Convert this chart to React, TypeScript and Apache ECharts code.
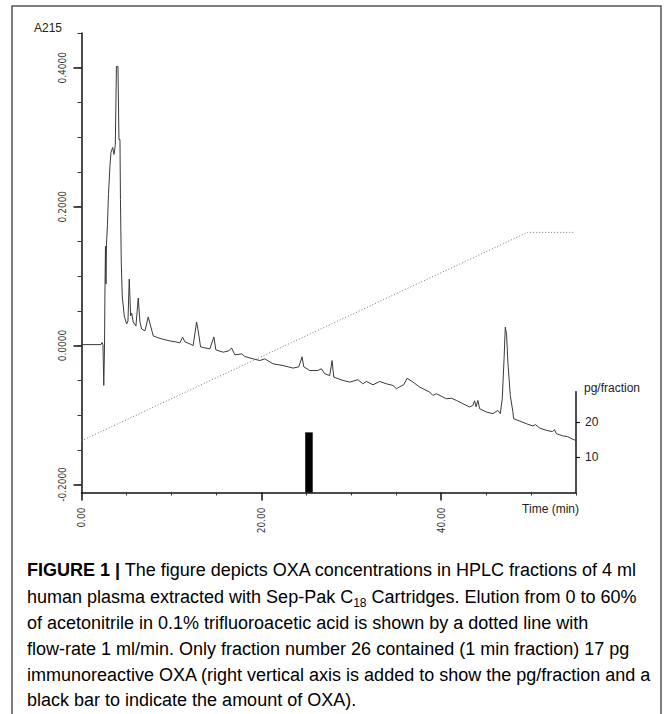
import React, { useEffect, useRef } from "react";
import * as echarts from "echarts";

// HPLC trace (time in min, absorbance at 215 nm)
const traceTime = [
  0, 2.167, 2.278, 2.389, 2.478, 2.556, 2.611, 2.667, 2.722, 2.778, 2.889, 3.0, 3.167, 3.278, 3.467,
  3.611, 3.756, 3.889, 4.056, 4.167, 4.278, 4.333, 4.422, 4.533, 4.756, 5.022, 5.167, 5.311, 5.467,
  5.578, 5.756, 6.056, 6.311, 6.5, 6.689, 7.056, 7.422, 7.689, 7.978, 8.356, 8.911, 9.833, 10.5,
  10.944, 11.244, 11.5, 12.056, 12.422, 12.8, 12.944, 13.244, 13.722, 14.278, 14.722, 14.944, 15.756,
  16.389, 16.689, 17.056, 17.833, 18.167, 19.089, 19.833, 20.389, 21.311, 22.422, 23.533, 24.167,
  24.533, 24.722, 25.389, 26.278, 26.689, 27.056, 27.611, 27.867, 28.056, 29.089, 29.833, 30.756,
  31.278, 31.689, 32.422, 33.167, 33.911, 34.644, 35.022, 35.389, 35.833, 36.222, 36.867, 37.611,
  37.978, 38.722, 39.089, 39.467, 40.578, 41.167, 41.689, 42.422, 43.167, 43.533, 43.722, 43.889,
  44.089, 44.278, 45.022, 45.756, 46.311, 46.578, 46.8, 47.0, 47.133, 47.278, 47.422, 47.689, 47.978,
  48.056, 48.533, 49.467, 50.2, 50.5, 50.944, 51.689, 52.389, 52.611, 52.8, 53.533, 54.056, 54.644,
  54.944,
];
const traceA215 = [
  0.0014, 0.0014, 0.0046, 0.001, -0.0574, -0.0047, 0.0814, 0.1431, 0.0886, 0.146, 0.1747, 0.2177,
  0.2594, 0.278, 0.2852, 0.2752, 0.2881, 0.4019, 0.4019, 0.2967, 0.2967, 0.2106, 0.1201, 0.0713,
  0.0426, 0.0311, 0.0355, 0.0957, 0.0426, 0.0469, 0.034, 0.0283, 0.0685, 0.034, 0.024, 0.0212, 0.0412,
  0.0283, 0.0139, 0.0121, 0.0096, 0.0067, 0.0053, 0.0039, 0.0121, 0.0053, 0.0024, 0.0, 0.034, 0.024,
  -0.0019, -0.0033, -0.0047, 0.0125, -0.0062, -0.0095, -0.0076, -0.0033, -0.0133, -0.0119, -0.0158,
  -0.0191, -0.0215, -0.0191, -0.0263, -0.0287, -0.0324, -0.0306, -0.0162, -0.0306, -0.0359, -0.0359,
  -0.0334, -0.0406, -0.0431, -0.0215, -0.0454, -0.0502, -0.0525, -0.0492, -0.055, -0.0517, -0.0564,
  -0.0517, -0.055, -0.0574, -0.0622, -0.0593, -0.0565, -0.0471, -0.0525, -0.0597, -0.0622, -0.0669,
  -0.0718, -0.0693, -0.0765, -0.0758, -0.0789, -0.0837, -0.0884, -0.0861, -0.0794, -0.088, -0.0789,
  -0.0909, -0.0956, -0.098, -0.0933, -0.098, -0.0765, -0.0191, 0.0264, 0.0168, -0.0238, -0.0718,
  -0.0952, -0.1052, -0.1076, -0.1124, -0.1157, -0.1138, -0.1186, -0.122, -0.1239, -0.121, -0.1267,
  -0.13, -0.131, -0.1349, -0.1364,
];

// Acetonitrile gradient (dotted line), drawn on the A215 scale
const gradientTime = [0, 49.6, 54.8];
const gradientLevel = [-0.137, 0.163, 0.163];

// Immunoreactive OXA (pg/fraction)
const fractionTime = [25.3];
const fractionPg = [17];

// Tick values
const yMajorTicks = [-0.2, 0, 0.2, 0.4];
const yMinorTicks = [-0.2, -0.15, -0.1, -0.05, 0, 0.05, 0.1, 0.15, 0.2, 0.25, 0.3, 0.35, 0.4, 0.45];
const xMajorTicks = [0, 20, 40];
const xMinorTicks = [5, 10, 15, 25, 30, 35, 45, 50, 55];
const rightTicks = [10, 20];

const captionLines = [
  "{b|FIGURE 1 |}{n| The figure depicts OXA concentrations in HPLC fractions of 4 ml}",
  "{n|human plasma extracted with Sep-Pak C}{s|18}{n| Cartridges. Elution from 0 to 60%}",
  "{n|of acetonitrile in 0.1% trifluoroacetic acid is shown by a dotted line with}",
  "{n|flow-rate 1 ml/min. Only fraction number 26 contained (1 min fraction) 17 pg}",
  "{n|immunoreactive OXA (right vertical axis is added to show the pg/fraction and a}",
  "{n|black bar to indicate the amount of OXA).}",
];

const NUM_FONT = "'Liberation Sans Narrow', 'DejaVu Sans Condensed', sans-serif";
const SANS = "'Liberation Sans', Arial, sans-serif";

export default function App() {
  const ref = useRef<HTMLDivElement>(null);

  useEffect(() => {
    if (!ref.current) return;
    const chart = echarts.init(ref.current, undefined, { renderer: "svg" });

    const trace = traceTime.map((t, i) => [t, traceA215[i]]);
    const gradient = gradientTime.map((t, i) => [t, gradientLevel[i]]);
    const bars = fractionTime.map((t, i) => [t, fractionPg[i]]);

    const yMin = -0.2115;
    const yMax = 0.45;

    const rich = {
      b: { fontFamily: SANS, fontSize: 18, fontWeight: "bold", color: "#333", lineHeight: 24 },
      n: { fontFamily: SANS, fontSize: 18, color: "#3a3a3a", lineHeight: 24 },
      s: { fontFamily: SANS, fontSize: 12, color: "#3a3a3a", lineHeight: 13, verticalAlign: "bottom" },
    };

    const captionY = [570, 596.5, 622.5, 648.5, 674.5, 700];

    chart.setOption({
      animation: false,
      backgroundColor: "#ffffff",
      grid: [
        { left: 81.5, top: 33, width: 494.5, height: 459.5 },
        { left: 81.5, top: 391.7, width: 494.5, height: 100.8 },
      ],
      xAxis: [
        {
          gridIndex: 0,
          type: "value",
          min: 0,
          max: 55,
          position: "bottom",
          axisLine: { show: true, onZero: false, lineStyle: { color: "#111", width: 1.5 } },
          axisTick: { show: true, customValues: xMajorTicks, length: 8, lineStyle: { color: "#111", width: 1.5 } },
          axisLabel: {
            customValues: xMajorTicks,
            rotate: 90,
            margin: 15,
            formatter: (v: number) => v.toFixed(2),
            fontFamily: NUM_FONT,
            fontSize: 10,
            color: "#333",
          },
          splitLine: { show: false },
        },
        {
          gridIndex: 0,
          type: "value",
          min: 0,
          max: 55,
          position: "bottom",
          axisLine: { show: false, onZero: false },
          axisTick: { show: true, customValues: xMinorTicks, length: 3, lineStyle: { color: "#333", width: 1 } },
          axisLabel: { show: false },
          splitLine: { show: false },
        },
        { gridIndex: 1, type: "value", min: 0, max: 55, show: false, axisLine: { onZero: false } },
      ],
      yAxis: [
        {
          gridIndex: 0,
          type: "value",
          min: yMin,
          max: yMax,
          position: "left",
          axisLine: { show: true, onZero: false, lineStyle: { color: "#111", width: 1.5 } },
          axisTick: { show: true, customValues: yMajorTicks, length: 8, lineStyle: { color: "#111", width: 1.5 } },
          axisLabel: {
            customValues: yMajorTicks,
            rotate: 90,
            margin: 14,
            formatter: (v: number) => v.toFixed(4),
            fontFamily: NUM_FONT,
            fontSize: 10,
            color: "#333",
          },
          splitLine: { show: false },
        },
        {
          gridIndex: 0,
          type: "value",
          min: yMin,
          max: yMax,
          position: "left",
          axisLine: { show: false, onZero: false },
          axisTick: { show: true, customValues: yMinorTicks, length: 4, lineStyle: { color: "#333", width: 1 } },
          axisLabel: { show: false },
          splitLine: { show: false },
        },
        {
          gridIndex: 1,
          type: "value",
          min: 0,
          max: 28.5,
          position: "right",
          axisLine: { show: true, onZero: false, lineStyle: { color: "#111", width: 1.5 } },
          axisTick: { show: true, customValues: rightTicks, length: 4, lineStyle: { color: "#111", width: 1.2 } },
          axisLabel: {
            customValues: rightTicks,
            margin: 9,
            fontFamily: SANS,
            fontSize: 12,
            color: "#222",
          },
          splitLine: { show: false },
        },
      ],
      series: [
        {
          type: "line",
          xAxisIndex: 0,
          yAxisIndex: 0,
          data: gradient,
          showSymbol: false,
          lineStyle: { color: "#777", width: 1, type: [1, 2] },
          z: 2,
        },
        {
          type: "line",
          xAxisIndex: 0,
          yAxisIndex: 0,
          data: trace,
          showSymbol: false,
          lineStyle: { color: "#3a3a3a", width: 1 },
          z: 3,
        },
        {
          type: "bar",
          xAxisIndex: 2,
          yAxisIndex: 2,
          data: bars,
          barWidth: 7.5,
          itemStyle: { color: "#000" },
          z: 4,
        },
      ],
      graphic: [
        {
          type: "polyline",
          shape: { points: [[12, 714], [12, 6], [661, 6], [661, 714]] },
          style: { stroke: "#555", lineWidth: 1.5, fill: null },
          silent: true,
        },
        {
          type: "text",
          x: 62,
          y: 28,
          style: { text: "A215", fontFamily: SANS, fontSize: 12, fill: "#222", align: "right", verticalAlign: "middle" },
        },
        {
          type: "text",
          x: 584,
          y: 388,
          style: { text: "pg/fraction", fontFamily: SANS, fontSize: 12, fill: "#222", align: "left", verticalAlign: "middle" },
        },
        {
          type: "text",
          x: 579,
          y: 509,
          style: { text: "Time (min)", fontFamily: SANS, fontSize: 12, fill: "#222", align: "right", verticalAlign: "middle" },
        },
        ...captionLines.map((line, i) => ({
          type: "text",
          x: 27,
          y: captionY[i],
          style: { text: line, rich, align: "left", verticalAlign: "middle" },
        })),
      ],
    });

    return () => chart.dispose();
  }, []);

  return (
    <div
      ref={ref}
      style={{ position: "absolute", left: 0, top: 0, width: 667, height: 714, background: "#fff" }}
    />
  );
}
